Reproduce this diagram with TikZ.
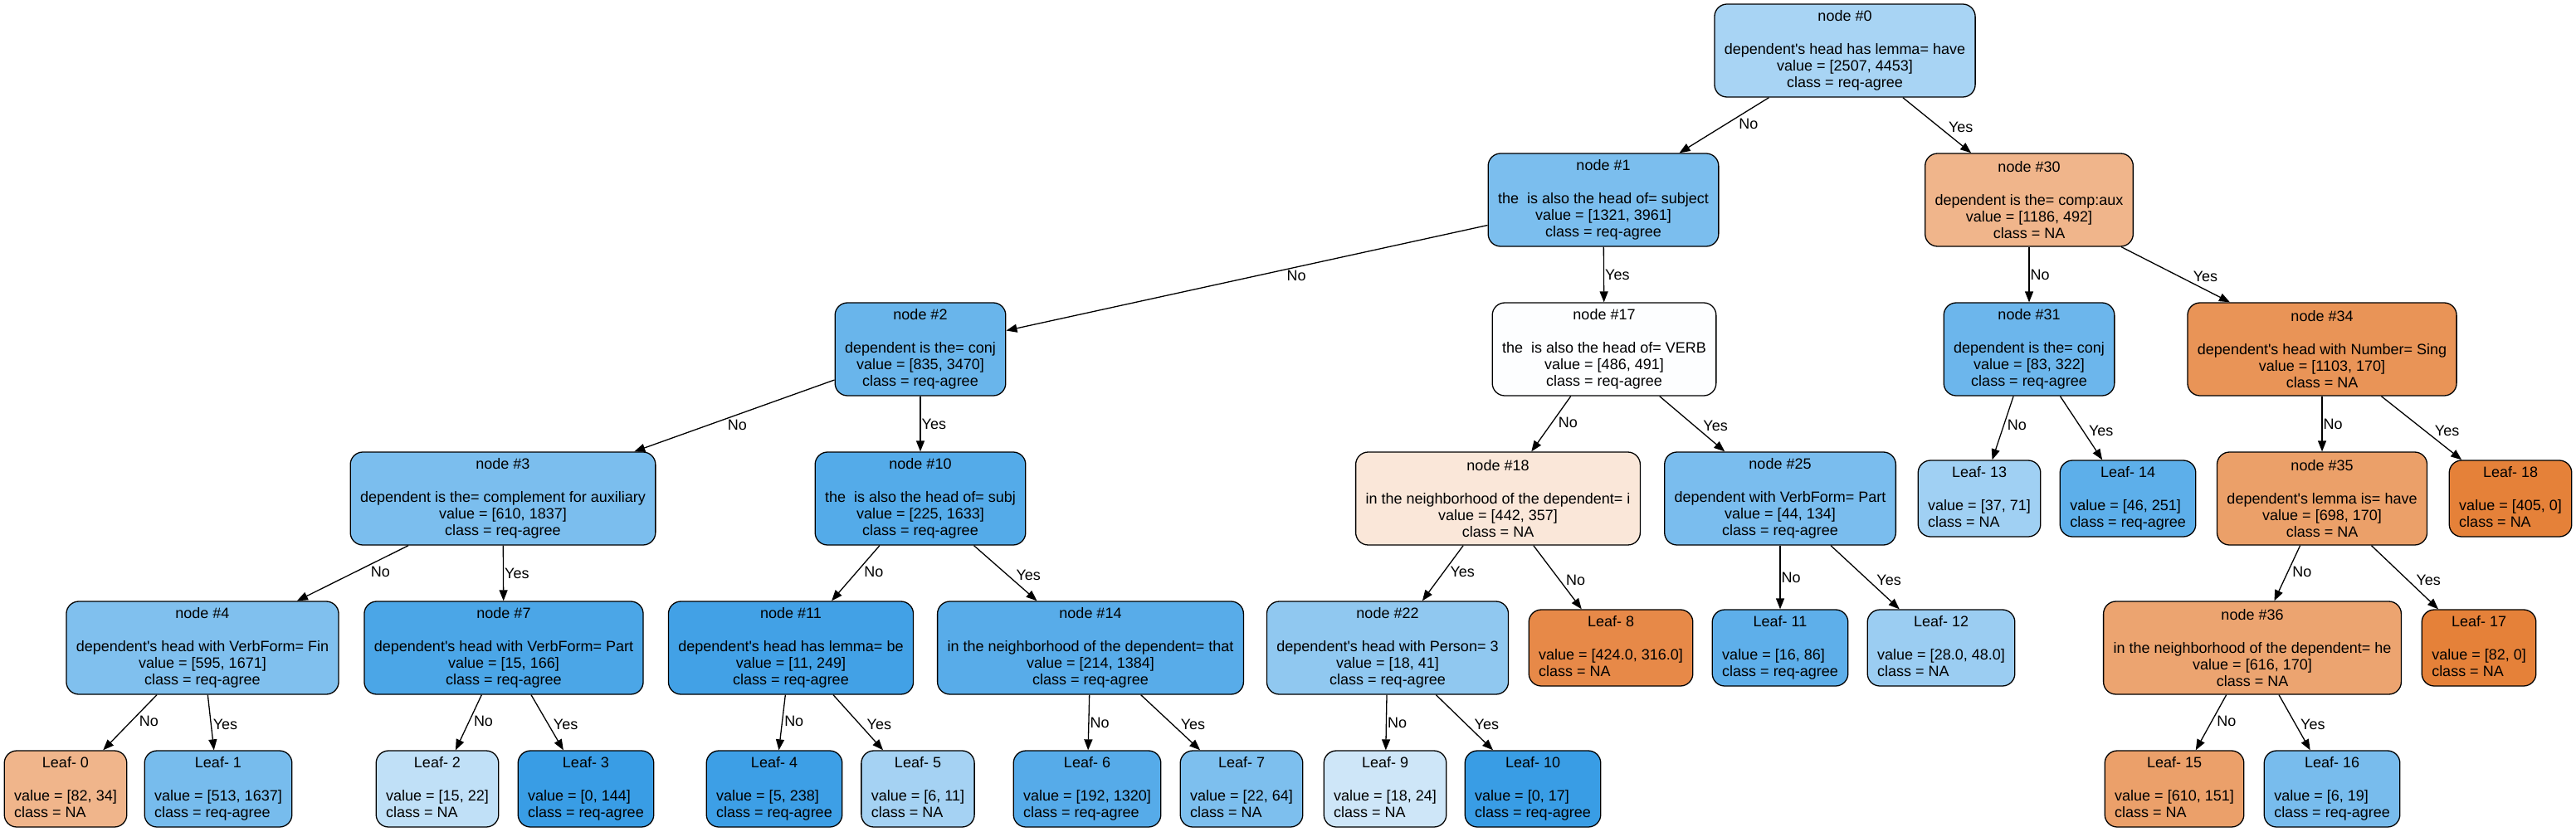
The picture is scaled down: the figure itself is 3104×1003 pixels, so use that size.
\documentclass[tikz,border=0pt]{standalone}
\usepackage{fontspec}
\setmainfont{Liberation Sans}
\usetikzlibrary{arrows.meta}
\newcommand{\fs}{\fontsize{18pt}{20pt}\selectfont}
\newcommand{\ap}{\textquotesingle}
\newcommand{\itext}[4]{node \##1\\[20pt]#2\\value = [#3]\\class = #4}
\newcommand{\ltext}[3]{\begin{tabular}{@{}l@{}}\multicolumn{1}{@{}c@{}}{Leaf- #1}\\ \\ value = [#2]\\ class = #3\end{tabular}}
\tikzset{
  box/.style={draw=black, line width=1.3pt, rounded corners=15pt, align=center,
    inner xsep=12pt, inner ysep=0pt, minimum height=112pt, font=\fs},
  leafbox/.style={box, minimum height=92pt},
  arr/.style={-{Triangle[length=13pt,width=10pt]}, line width=1.3pt},
  lblL/.style={anchor=north west, pos=0.35, inner sep=1pt, font=\fs},
  lblR/.style={anchor=south west, pos=0.65, inner sep=1pt, font=\fs},
  lblV/.style={anchor=west, pos=0.5, inner sep=1pt, font=\fs},
}
\begin{document}
\begin{tikzpicture}[x=1pt,y=-1pt]
\fill[white] (0,0) rectangle (3104,1003);
\useasboundingbox (0,0) rectangle (3104,1003);
% row 0
\node[box, fill={rgb,255:red,168;green,212;blue,244}] (n0) at (2223,61) {\itext{0}{dependent\ap s head has lemma= have}{2507, 4453}{req-agree}};
% row 1
\node[box, fill={rgb,255:red,123;green,190;blue,238}] (n1) at (1932,241) {\itext{1}{the\ \ is also the head of= subject}{1321, 3961}{req-agree}};
\node[box, fill={rgb,255:red,240;green,181;blue,139}] (n30) at (2445,241) {\itext{30}{dependent is the= comp:aux}{1186, 492}{NA}};
% row 2
\node[box, fill={rgb,255:red,105;green,181;blue,235}] (n2) at (1109,421) {\itext{2}{dependent is the= conj}{835, 3470}{req-agree}};
\node[box, fill={rgb,255:red,253;green,254;blue,255}] (n17) at (1933,421) {\itext{17}{the\ \ is also the head of= VERB}{486, 491}{req-agree}};
\node[box, fill={rgb,255:red,108;green,182;blue,236}] (n31) at (2445,421) {\itext{31}{dependent is the= conj}{83, 322}{req-agree}};
\node[box, fill={rgb,255:red,233;green,148;blue,87}] (n34) at (2798,421) {\itext{34}{dependent\ap s head with Number= Sing}{1103, 170}{NA}};
% row 3
\node[box, fill={rgb,255:red,123;green,190;blue,238}] (n3) at (606,601) {\itext{3}{dependent is the= complement for auxiliary}{610, 1837}{req-agree}};
\node[box, fill={rgb,255:red,84;green,171;blue,233}] (n10) at (1109,601) {\itext{10}{the\ \ is also the head of= subj}{225, 1633}{req-agree}};
\node[box, fill={rgb,255:red,250;green,231;blue,217}] (n18) at (1805,601) {\itext{18}{in the neighborhood of the dependent= i}{442, 357}{NA}};
\node[box, fill={rgb,255:red,122;green,189;blue,238}] (n25) at (2145,601) {\itext{25}{dependent with VerbForm= Part}{44, 134}{req-agree}};
\node[leafbox, fill={rgb,255:red,160;green,208;blue,243}] (l13) at (2385,601) {\ltext{13}{37, 71}{NA}};
\node[leafbox, fill={rgb,255:red,93;green,175;blue,234}] (l14) at (2564,601) {\ltext{14}{46, 251}{req-agree}};
\node[box, fill={rgb,255:red,235;green,160;blue,105}] (n35) at (2798,601) {\itext{35}{dependent\ap s lemma is= have}{698, 170}{NA}};
\node[leafbox, fill={rgb,255:red,229;green,129;blue,57}] (l18) at (3025,601) {\ltext{18}{405, 0}{NA}};
% row 4
\node[box, fill={rgb,255:red,128;green,192;blue,238}] (n4) at (244,781) {\itext{4}{dependent\ap s head with VerbForm= Fin}{595, 1671}{req-agree}};
\node[box, fill={rgb,255:red,75;green,166;blue,231}] (n7) at (607,781) {\itext{7}{dependent\ap s head with VerbForm= Part}{15, 166}{req-agree}};
\node[box, fill={rgb,255:red,66;green,161;blue,230}] (n11) at (953,781) {\itext{11}{dependent\ap s head has lemma= be}{11, 249}{req-agree}};
\node[box, fill={rgb,255:red,88;green,172;blue,233}] (n14) at (1314,781) {\itext{14}{in the neighborhood of the dependent= that}{214, 1384}{req-agree}};
\node[box, fill={rgb,255:red,144;green,200;blue,240}] (n22) at (1672,781) {\itext{22}{dependent\ap s head with Person= 3}{18, 41}{req-agree}};
\node[leafbox, fill={rgb,255:red,231;green,137;blue,72}] (l8) at (1941,781) {\ltext{8}{424.0, 316.0}{NA}};
\node[leafbox, fill={rgb,255:red,94;green,175;blue,234}] (l11) at (2145,781) {\ltext{11}{16, 86}{req-agree}};
\node[leafbox, fill={rgb,255:red,155;green,205;blue,242}] (l12) at (2339,781) {\ltext{12}{28.0, 48.0}{NA}};
\node[box, fill={rgb,255:red,236;green,164;blue,112}] (n36) at (2714,781) {\itext{36}{in the neighborhood of the dependent= he}{616, 170}{NA}};
\node[leafbox, fill={rgb,255:red,229;green,129;blue,57}] (l17) at (2987,781) {\ltext{17}{82, 0}{NA}};
% row 5
\node[leafbox, fill={rgb,255:red,240;green,181;blue,139}] (l0) at (79,951) {\ltext{0}{82, 34}{NA}};
\node[leafbox, fill={rgb,255:red,119;green,188;blue,237}] (l1) at (263,951) {\ltext{1}{513, 1637}{req-agree}};
\node[leafbox, fill={rgb,255:red,192;green,224;blue,247}] (l2) at (527,951) {\ltext{2}{15, 22}{NA}};
\node[leafbox, fill={rgb,255:red,57;green,157;blue,229}] (l3) at (706,951) {\ltext{3}{0, 144}{req-agree}};
\node[leafbox, fill={rgb,255:red,61;green,159;blue,230}] (l4) at (933,951) {\ltext{4}{5, 238}{req-agree}};
\node[leafbox, fill={rgb,255:red,165;green,210;blue,243}] (l5) at (1106,951) {\ltext{5}{6, 11}{NA}};
\node[leafbox, fill={rgb,255:red,86;green,171;blue,233}] (l6) at (1310,951) {\ltext{6}{192, 1320}{req-agree}};
\node[leafbox, fill={rgb,255:red,125;green,191;blue,238}] (l7) at (1496,951) {\ltext{7}{22, 64}{NA}};
\node[leafbox, fill={rgb,255:red,206;green,230;blue,248}] (l9) at (1669,951) {\ltext{9}{18, 24}{NA}};
\node[leafbox, fill={rgb,255:red,57;green,157;blue,229}] (l10) at (1847,951) {\ltext{10}{0, 17}{req-agree}};
\node[leafbox, fill={rgb,255:red,235;green,160;blue,106}] (l15) at (2620,951) {\ltext{15}{610, 151}{NA}};
\node[leafbox, fill={rgb,255:red,120;green,188;blue,237}] (l16) at (2810,951) {\ltext{16}{6, 19}{req-agree}};
% edges
\draw[arr] (n0) -- node[lblL] {No} (n1);
\draw[arr] (n0) -- node[lblR] {Yes} (n30);
\draw[arr] (n1) -- node[lblL, pos=0.42] {No} (n2);
\draw[arr] (n1) -- node[lblV] {Yes} (n17);
\draw[arr] (n30) -- node[lblV] {No} (n31);
\draw[arr] (n30) -- node[lblR] {Yes} (n34);
\draw[arr] (n2) -- node[lblL, pos=0.54] {No} (n3);
\draw[arr] (n2) -- node[lblV] {Yes} (n10);
\draw[arr] (n17) -- node[lblL] {No} (n18);
\draw[arr] (n17) -- node[lblR] {Yes} (n25);
\draw[arr] (n31) -- node[lblL] {No} (l13);
\draw[arr] (n31) -- node[lblR] {Yes} (l14);
\draw[arr] (n34) -- node[lblV] {No} (n35);
\draw[arr] (n34) -- node[lblR] {Yes} (l18);
\draw[arr] (n3) -- node[lblL] {No} (n4);
\draw[arr] (n3) -- node[lblV] {Yes} (n7);
\draw[arr] (n10) -- node[lblL] {No} (n11);
\draw[arr] (n10) -- node[lblR] {Yes} (n14);
\draw[arr] (n18) -- node[lblL] {Yes} (n22);
\draw[arr] (n18) -- node[lblR] {No} (l8);
\draw[arr] (n25) -- node[lblV] {No} (l11);
\draw[arr] (n25) -- node[lblR] {Yes} (l12);
\draw[arr] (n35) -- node[lblL] {No} (n36);
\draw[arr] (n35) -- node[lblR] {Yes} (l17);
\draw[arr] (n4) -- node[lblL] {No} (l0);
\draw[arr] (n4) -- node[lblR] {Yes} (l1);
\draw[arr] (n7) -- node[lblL] {No} (l2);
\draw[arr] (n7) -- node[lblR] {Yes} (l3);
\draw[arr] (n11) -- node[lblL] {No} (l4);
\draw[arr] (n11) -- node[lblR] {Yes} (l5);
\draw[arr] (n14) -- node[lblV] {No} (l6);
\draw[arr] (n14) -- node[lblR] {Yes} (l7);
\draw[arr] (n22) -- node[lblV] {No} (l9);
\draw[arr] (n22) -- node[lblR] {Yes} (l10);
\draw[arr] (n36) -- node[lblL] {No} (l15);
\draw[arr] (n36) -- node[lblR] {Yes} (l16);
\end{tikzpicture}
\end{document}
